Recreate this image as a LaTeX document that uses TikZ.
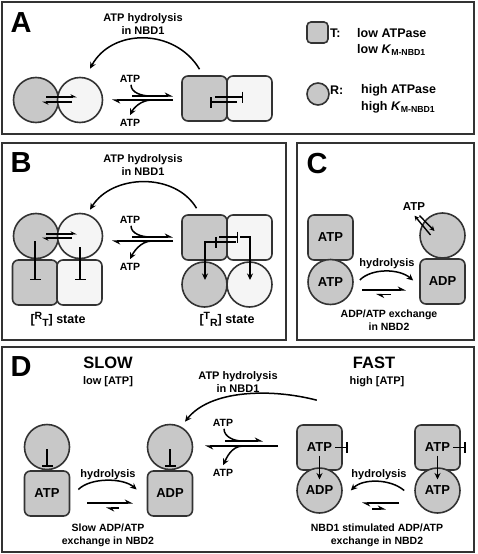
\documentclass[tikz,border=0pt]{standalone}
\usepackage{fontspec}
\setmainfont{Liberation Sans}
\usetikzlibrary{arrows.meta,calc}
\definecolor{gry}{HTML}{C8C8C8}
\definecolor{lgt}{HTML}{F5F5F5}
\definecolor{bd}{HTML}{333333}
\begin{document}
\begin{tikzpicture}[x=1pt,y=-1pt,
  panel/.style={draw=bd,line width=1.7pt},
  sq/.style={rectangle,rounded corners=6pt,draw=bd,line width=1.6pt,fill=gry,minimum size=45pt,inner sep=0pt,font=\fontsize{13}{15}\selectfont\bfseries},
  cir/.style={circle,draw=bd,line width=1.6pt,fill=gry,minimum size=45pt,inner sep=0pt,font=\fontsize{13}{15}\selectfont\bfseries},
  litefill/.style={fill=lgt},
  plet/.style={font=\fontsize{29}{30}\selectfont\bfseries,inner sep=0pt},
  lab/.style={font=\fontsize{11}{13.5}\selectfont\bfseries,align=center,inner sep=0pt},
  small/.style={font=\fontsize{10.5}{12}\selectfont\bfseries,inner sep=0pt},
  hyd/.style={font=\fontsize{11}{12}\selectfont\bfseries,inner sep=0pt},
  exch/.style={font=\fontsize{10.5}{13.5}\selectfont\bfseries,align=center,inner sep=0pt},
  leg/.style={font=\fontsize{12.5}{14}\selectfont\bfseries,inner sep=0pt,anchor=west},
  big/.style={font=\fontsize{16.5}{18}\selectfont\bfseries,inner sep=0pt},
  arr/.style={line width=1.5pt,-{Stealth[length=6.5pt,width=6pt]}},
  harp/.style={line width=1.5pt,-{Stealth[left,length=7pt,width=7pt]}},
  sharp/.style={line width=1.4pt,-{Stealth[left,length=5.5pt,width=5.5pt]}},
  plain/.style={line width=1.5pt},
  inh/.style={line width=1.5pt,-{Bar[width=11pt,line width=1.5pt]}},
]
\useasboundingbox (0,0) rectangle (477,554);
\fill[white] (0,0) rectangle (477,554);

% ================= Panel A =================
\draw[panel] (2,2) rectangle (474,134);
\node[plet] (la) at (21,23) {A};
\node[lab] (ha) at (143,24) {ATP hydrolysis\\in NBD1};
\node[cir] (cA1) at (36,100) {};
\node[cir,litefill] (cA2) at (80,100) {};
\node[sq] (sA1) at (204.5,98.5) {};
\node[sq,litefill] (sA2) at (249.5,98.5) {};
\draw[sharp] ([shift={(10,-3)}]cA1.center) -- ([shift={(-3,-3)}]cA2.center);
\draw[sharp] ([shift={(-8,2)}]cA2.center) -- ([shift={(6,2)}]cA1.center);
\draw[inh] ([shift={(10.5,-1.5)}]sA1.center) -- ([shift={(-6.5,-1.5)}]sA2.center);
\draw[inh] ([shift={(-12.5,3.5)}]sA2.center) -- ([shift={(5.5,3.5)}]sA1.center);
\node[small] (atA1) at (130,79) {ATP};
\node[small] (atA2) at (130,123) {ATP};
\coordinate (eA1) at (132,96);
\coordinate (eA2) at (173,96);
\coordinate (eA3) at (173,100);
\coordinate (eA4) at (112,100);
\draw[harp] (eA1) -- (eA2);
\draw[plain] ([shift={(1,2)}]atA1.south) .. controls +(0,8) and +(-8,0) .. ($(eA1)+(18,0)$);
\draw[harp] (eA3) -- (eA4);
\draw[arr] ($(eA4)+(40,0)$) .. controls +(-12,0) and +(3,-6) .. ([shift={(0,-4)}]atA2.north);
\draw[arr] ([shift={(-5,-6)}]sA1.north) .. controls (175,28) and (112,28) .. ([shift={(10,-8)}]cA2.north);
% legend
\node[sq,minimum size=21pt,rounded corners=4pt] (lgT) at (317.5,32.5) {};
\node[leg] (lgT1) at (330,33) {T:};
\node[leg] (lgT2) at (357,33) {low ATPase};
\node[leg] (lgT3) at (357,50) {low \textit{K}\textsubscript{M-NBD1}};
\node[cir,minimum size=22pt] (lgR) at (318,94) {};
\node[leg] (lgR1) at (330,90) {R:};
\node[leg] (lgR2) at (361,90) {high ATPase};
\node[leg] (lgR3) at (361,107) {high \textit{K}\textsubscript{M-NBD1}};

% ================= Panel B =================
\draw[panel] (2,143) rectangle (286,340);
\node[plet] (lb) at (21,163) {B};
\node[lab] (hb) at (143,165) {ATP hydrolysis\\in NBD1};
\node[sq] (sB1) at (35,282.5) {};
\node[sq,litefill] (sB2) at (79.5,282.5) {};
\node[cir] (cB1) at (36,236) {};
\node[cir,litefill] (cB2) at (80,236) {};
\draw[sharp] ([shift={(10,-2)}]cB1.center) -- ([shift={(-3,-2)}]cB2.center);
\draw[sharp] ([shift={(-8,2)}]cB2.center) -- ([shift={(6,2)}]cB1.center);
\draw[inh] ([shift={(-1,5)}]cB1.center) -- ([shift={(0,-2.5)}]sB1.center);
\draw[inh] ([shift={(0,11)}]cB2.center) -- ([shift={(0.5,-2.5)}]sB2.center);
\node[small] (atB1) at (130,220) {ATP};
\node[small] (atB2) at (130,267) {ATP};
\coordinate (eB1) at (132,237);
\coordinate (eB2) at (173,237);
\coordinate (eB3) at (173,241);
\coordinate (eB4) at (112,241);
\draw[harp] (eB1) -- (eB2);
\draw[plain] ([shift={(1,2)}]atB1.south) .. controls +(0,8) and +(-8,0) .. ($(eB1)+(18,0)$);
\draw[harp] (eB3) -- (eB4);
\draw[arr] ($(eB4)+(40,0)$) .. controls +(-12,0) and +(3,-6) .. ([shift={(0,-4)}]atB2.north);
\node[sq] (sB3) at (204.5,237.5) {};
\node[sq,litefill] (sB4) at (249.5,237.5) {};
\node[cir] (cB3) at (204.5,284.5) {};
\node[cir,litefill] (cB4) at (249.5,284.5) {};
\draw[arr] ([shift={(-8,-6)}]sB3.north) .. controls (175,172) and (112,174) .. ([shift={(10,-3)}]cB2.north);
\draw[inh] ([shift={(14.5,-0.5)}]sB3.center) -- ([shift={(-11.5,-0.5)}]sB4.center);
\draw[inh] ([shift={(-13.5,4.5)}]sB4.center) -- ([shift={(10.5,4.5)}]sB3.center);
\draw[arr] ([shift={(10.5,4.5)}]sB3.center) -| ([shift={(0.5,-4.5)}]cB3.center);
\draw[arr] ([shift={(-9.5,-0.5)}]sB4.center) -| ([shift={(0.5,-4.5)}]cB4.center);
\node[leg,anchor=center] (rts) at (58,319) {[\raisebox{4pt}{\fontsize{10.5}{10}\selectfont R}\raisebox{-3pt}{\fontsize{10.5}{10}\selectfont T}] state};
\node[leg,anchor=center] (trs) at (227,319) {[\raisebox{4pt}{\fontsize{10.5}{10}\selectfont T}\raisebox{-3pt}{\fontsize{10.5}{10}\selectfont R}] state};

% ================= Panel C =================
\draw[panel] (297,143) rectangle (474,340);
\node[plet] (lc) at (317,164) {C};
\node[sq] (sC1) at (330.5,237.5) {ATP};
\node[cir] (cC1) at (330.5,282) {ATP};
\node[cir] (cC2) at (442.5,235.5) {};
\node[sq] (sC2) at (442.5,281.5) {ADP};
\node[font=\fontsize{11.5}{12}\selectfont\bfseries,inner sep=0pt] (atC) at (414,207) {ATP};
\draw[line width=1.4pt,-{Stealth[length=5pt,width=5pt]}] ([shift={(5.5,4.5)}]atC.south) -- ([shift={(-8,-4.5)}]cC2.center);
\draw[line width=1.4pt,-{Stealth[length=5pt,width=5pt]}] ([shift={(-12,-0.5)}]cC2.center) -- ([shift={(0.5,4.5)}]atC.south);
\node[hyd] (hc) at (387,264) {hydrolysis};
\draw[arr] ([shift={(6,-2)}]cC1.east) .. controls +(12,-12) and +(-14,-12) .. ([shift={(-6,-1)}]sC2.west);
\coordinate (eC1) at (362,290);
\coordinate (eC2) at (406,290);
\coordinate (eC3) at (391,294.5);
\coordinate (eC4) at (376,294.5);
\draw[harp] (eC1) -- (eC2);
\draw[harp] (eC3) -- (eC4);
\node[exch] (xc) at (389,320) {ADP/ATP exchange\\in NBD2};

% ================= Panel D =================
\draw[panel] (2,347) rectangle (474,552);
\node[plet] (ld) at (21,367) {D};
\node[big] (slow) at (108,363) {SLOW};
\node[hyd] (slow2) at (108,382) {low [ATP]};
\node[big] (fast) at (374,363) {FAST};
\node[hyd] (fast2) at (377,382) {high [ATP]};
\node[lab] (hd) at (238,382) {ATP hydrolysis\\in NBD1};
% slow side
\node[sq] (sD1) at (47,493.5) {ATP};
\node[cir] (cD1) at (47,447) {};
\node[sq] (sD2) at (170,493.5) {ADP};
\node[cir] (cD2) at (170,447) {};
\draw[inh] ([shift={(0,2)}]cD1.center) -- ([shift={(0,-27)}]sD1.center);
\draw[inh] ([shift={(0,2)}]cD2.center) -- ([shift={(0,-27)}]sD2.center);
\node[hyd] (hd1) at (108,475) {hydrolysis};
\draw[arr] ([shift={(8,-4)}]sD1.east) .. controls +(12,-12) and +(-14,-12) .. ([shift={(-10,-4)}]sD2.west);
\coordinate (eD1) at (87,503);
\coordinate (eD2) at (133,503);
\coordinate (eD3) at (119,508);
\coordinate (eD4) at (106,508);
\draw[harp] (eD1) -- (eD2);
\draw[harp] (eD3) -- (eD4);
\node[exch] (xd1) at (108,535.5) {Slow ADP/ATP\\exchange in NBD2};
% central equilibrium
\node[small] (atD1) at (223,423) {ATP};
\node[small] (atD2) at (223,473) {ATP};
\coordinate (eD5) at (225,441);
\coordinate (eD6) at (263,441);
\coordinate (eD7) at (278,446);
\coordinate (eD8) at (205,446);
\draw[harp] (eD5) -- (eD6);
\draw[plain] ([shift={(1,2)}]atD1.south) .. controls +(0,8) and +(-8,0) .. ($(eD5)+(17,0)$);
\draw[harp] (eD7) -- (eD8);
\draw[arr] ($(eD8)+(38,0)$) .. controls +(-12,0) and +(3,-6) .. ([shift={(0,-4)}]atD2.north);
% fast side
\node[sq] (sD3) at (319.5,447.5) {ATP};
\node[cir] (cD3) at (319.5,490.5) {ADP};
\node[sq] (sD4) at (437.5,447.5) {ATP};
\node[cir] (cD4) at (437.5,490.5) {ATP};
\draw[inh] ([shift={(15.5,0)}]sD3.center) -- ([shift={(5,0)}]sD3.east);
\draw[inh] ([shift={(15.5,0)}]sD4.center) -- ([shift={(5,0)}]sD4.east);
\draw[arr] ([shift={(0,8)}]sD3.center) -- ([shift={(0,-11)}]cD3.center);
\draw[arr] ([shift={(0,8)}]sD4.center) -- ([shift={(0,-11)}]cD4.center);
\draw[arr] ([shift={(-26,-24)}]sD3.north east) .. controls (270,388) and (210,390) .. ([shift={(15,-2)}]cD2.north);
\node[hyd] (hd2) at (379,475) {hydrolysis};
\draw[arr] ([shift={(-10,0)}]cD4.west) .. controls +(-14,-12) and +(12,-12) .. ([shift={(8,0)}]cD3.east);
\coordinate (eD9) at (399,503);
\coordinate (eD10) at (362,503);
\coordinate (eD11) at (372,509);
\coordinate (eD12) at (386,509);
\draw[harp] (eD9) -- (eD10);
\draw[harp] (eD11) -- (eD12);
\node[exch] (xd2) at (377,535.5) {NBD1 stimulated ADP/ATP\\exchange in NBD2};
\end{tikzpicture}
\end{document}
